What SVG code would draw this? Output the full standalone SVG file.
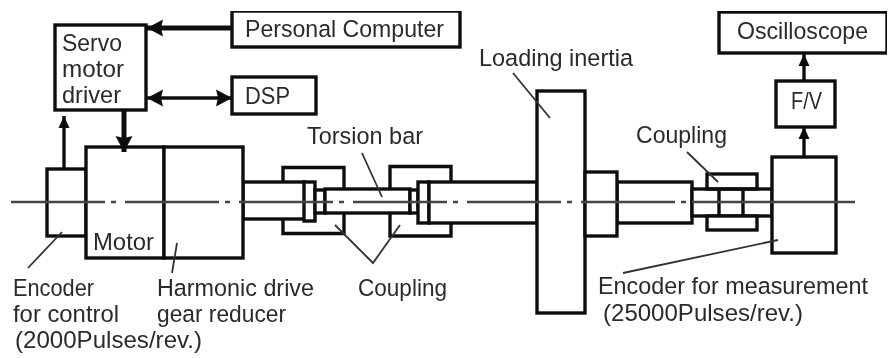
<svg xmlns="http://www.w3.org/2000/svg" width="890" height="358" viewBox="0 0 890 358">
<style>
.b{fill:#fff;stroke:#111;stroke-width:3.4}
.o{fill:none;stroke:#111;stroke-width:3.4}
.t{font-family:"Liberation Sans",Arial,sans-serif;font-size:24.5px;fill:#2a2a2a}
.l{fill:none;stroke:#333;stroke-width:1.8}
.c{fill:none;stroke:#444;stroke-width:2.4}
.a{fill:none;stroke:#111;stroke-width:5}
.a2{fill:none;stroke:#111;stroke-width:3.4}
</style>
<defs>
<filter id="soft" x="0" y="0" width="100%" height="100%"><feGaussianBlur stdDeviation="0.7"/></filter>
<marker id="big" markerUnits="userSpaceOnUse" markerWidth="20" markerHeight="20" refX="16" refY="9" orient="auto-start-reverse"><path d="M0,0.500 L16,9 L0,17.500 L2,9 Z" fill="#111"/></marker>
<marker id="small" markerUnits="userSpaceOnUse" markerWidth="14" markerHeight="14" refX="12" refY="6" orient="auto"><path d="M0,0.500 L12,6 L0,11.500 Z" fill="#111"/></marker>
</defs>
<rect width="890" height="358" fill="#fff"/>
<g filter="url(#soft)">
<g id="shaft-parts">
<rect class="b" x="243" y="182" width="62" height="37"/>
<path class="o" d="M283,182V167.500H344V189M283,219V233.500H344V213"/>
<path class="o" d="M390,189V166.500H451V182M390,213V236H451V223"/>
<rect class="b" x="304" y="182" width="11" height="39"/>
<rect class="b" x="315" y="190" width="10" height="23"/>
<rect class="b" x="325" y="189" width="85" height="24"/>
<rect class="b" x="410" y="190" width="8" height="23"/>
<rect class="b" x="418" y="182" width="11" height="41"/>
<rect class="b" x="429" y="182" width="108" height="41"/>
<rect class="b" x="617" y="182" width="75" height="41"/>
<rect class="b" x="692" y="189" width="80" height="27"/>
<rect class="o" x="707" y="174" width="50" height="15"/>
<rect class="b" x="707" y="216" width="50" height="14"/>
<path class="o" d="M719,189V216M743,189V216"/>
</g>
<g id="encoder-control"><rect class="b" x="47" y="169" width="39" height="67"/></g>
<g id="motor"><rect class="b" x="86" y="147" width="78" height="111"/><text class="t" x="93" y="250" textLength="61" lengthAdjust="spacingAndGlyphs">Motor</text></g>
<g id="reducer"><rect class="b" x="164" y="147" width="79" height="111"/></g>
<g id="inertia"><rect class="b" x="537" y="91" width="48" height="222"/></g>
<g id="hub"><rect class="b" x="585" y="172" width="32" height="64"/></g>
<g id="encoder-measure"><rect class="b" x="772" y="157" width="64" height="96"/></g>
<g id="servo"><rect class="b" x="55" y="25" width="91" height="85"/>
<text class="t" x="62" y="51" textLength="60" lengthAdjust="spacingAndGlyphs">Servo</text>
<text class="t" x="62" y="77" textLength="62" lengthAdjust="spacingAndGlyphs">motor</text>
<text class="t" x="62" y="103" textLength="59" lengthAdjust="spacingAndGlyphs">driver</text></g>
<g id="pc"><rect class="b" x="232" y="11" width="228" height="36"/><text class="t" x="245" y="37" textLength="199" lengthAdjust="spacingAndGlyphs">Personal Computer</text></g>
<g id="dsp"><rect class="b" x="232" y="77" width="84" height="37"/><text class="t" x="245" y="104" textLength="45" lengthAdjust="spacingAndGlyphs">DSP</text></g>
<g id="scope"><rect class="b" x="719" y="12" width="168" height="41"/><text class="t" x="737" y="39" textLength="131" lengthAdjust="spacingAndGlyphs">Oscilloscope</text></g>
<g id="fv"><rect class="b" x="776" y="81" width="59" height="46"/><text class="t" x="791" y="109" textLength="31" lengthAdjust="spacingAndGlyphs">F/V</text></g>
<g id="connectors">
<path class="c" d="M11,202H692" stroke-dasharray="94 6 5 9"/>
<path class="c" d="M692,202H855"/>
<path class="a" d="M232,28H147" marker-end="url(#big)"/>
<path class="a2" d="M147,98H232" marker-start="url(#big)" marker-end="url(#big)"/>
<path class="a" d="M124,110V152" marker-end="url(#big)"/>
<path class="a2" d="M64,168V116" marker-end="url(#small)"/>
<path class="a2" d="M804,157V127" marker-end="url(#small)"/>
<path class="a2" d="M804,81V54" marker-end="url(#small)"/>
<path class="l" d="M362,153L382,197M513,73L550,118M687,152L718,182M623,273L778,240M28,268L62,232M172,273L177,243M335,225L373,263L400,225"/>
</g>
<g id="labels">
<text class="t" x="307" y="144" textLength="116" lengthAdjust="spacingAndGlyphs">Torsion bar</text>
<text class="t" x="479" y="66" textLength="154" lengthAdjust="spacingAndGlyphs">Loading inertia</text>
<text class="t" x="636" y="143" textLength="91" lengthAdjust="spacingAndGlyphs">Coupling</text>
<text class="t" x="13" y="296" textLength="81" lengthAdjust="spacingAndGlyphs">Encoder</text>
<text class="t" x="13" y="322" textLength="106" lengthAdjust="spacingAndGlyphs">for control</text>
<text class="t" x="15" y="348" textLength="187" lengthAdjust="spacingAndGlyphs">(2000Pulses/rev.)</text>
<text class="t" x="157" y="296" textLength="157" lengthAdjust="spacingAndGlyphs">Harmonic drive</text>
<text class="t" x="157" y="322" textLength="129" lengthAdjust="spacingAndGlyphs">gear reducer</text>
<text class="t" x="358" y="296" textLength="89" lengthAdjust="spacingAndGlyphs">Coupling</text>
<text class="t" x="598" y="294" textLength="270" lengthAdjust="spacingAndGlyphs">Encoder for measurement</text>
<text class="t" x="603" y="321" textLength="200" lengthAdjust="spacingAndGlyphs">(25000Pulses/rev.)</text>
</g>
</g>
</svg>
